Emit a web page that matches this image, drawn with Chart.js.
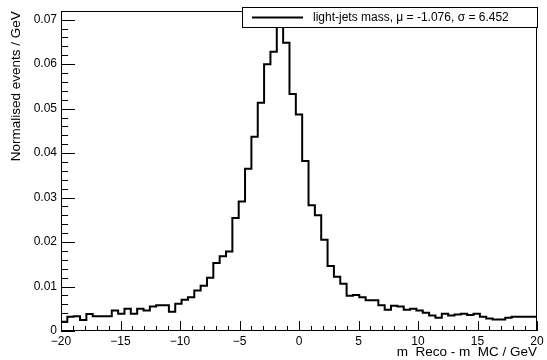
<!DOCTYPE html>
<html>
<head>
<meta charset="utf-8">
<script src="https://cdn.jsdelivr.net/npm/chart.js@4.4.1/dist/chart.umd.min.js"></script>
<style>
  html, body { margin: 0; padding: 0; background: #fff; }
  #wrap { width: 547px; height: 360px; }
</style>
</head>
<body>
<div id="wrap"><canvas id="histo" width="547" height="360"></canvas></div>
<script>
// histogram binning: 75 equal bins from -20 to 20 GeV
const xMin = -20;
const xMax = 20;
const nBins = 75;

// normalised bin contents
const lightJetsMass = [
  0.0039, 0.0021, 0.0032, 0.0033, 0.0025, 0.0038, 0.0033, 0.0033, 0.0033, 0.0046,
  0.0039, 0.0050, 0.0039, 0.0050, 0.0046, 0.0055, 0.0058, 0.0058, 0.0043, 0.0061,
  0.0070, 0.0076, 0.0091, 0.0102, 0.0120, 0.0153, 0.0168, 0.0179, 0.0254, 0.0291,
  0.0365, 0.0437, 0.0513, 0.0600, 0.0628, 0.0700, 0.0648, 0.0533, 0.0487, 0.0382,
  0.0283, 0.0260, 0.0205, 0.0146, 0.0122, 0.0106, 0.0079, 0.0081, 0.0076, 0.0069,
  0.0069, 0.0058, 0.0048, 0.0057, 0.0055, 0.0048, 0.0050, 0.0046, 0.0041, 0.0035,
  0.0030, 0.0039, 0.0035, 0.0037, 0.0039, 0.0036, 0.0039, 0.0032, 0.0028, 0.0026,
  0.0026, 0.0030, 0.0032, 0.0032, 0.0032
];

const yMax = 0.0719;
const xTickStep = 5;
const yTickStep = 0.01;
const legendText = 'light-jets mass, \u03bc = -1.076, \u03c3 = 6.452';
const xTitle = 'm  Reco - m  MC / GeV';
const yTitle = 'Normalised events / GeV';

const binWidth = (xMax - xMin) / nBins;

// outline points (ROOT style: drop to zero at both ends)
const points = [{ x: xMin, y: 0 }];
lightJetsMass.forEach((v, i) => points.push({ x: xMin + i * binWidth, y: v }));
points.push({ x: xMax, y: lightJetsMass[lightJetsMass.length - 1] });
points.push({ x: xMax, y: 0 });

const FONT = "'Liberation Sans', Arial, Helvetica, sans-serif";

// frame, inward ticks and the legend box
const rootStyle = {
  id: 'rootStyle',
  afterDatasetsDraw(chart) {
    const { ctx, chartArea: a, scales: { x, y } } = chart;
    ctx.save();
    ctx.strokeStyle = '#000';
    ctx.lineWidth = 1;
    ctx.strokeRect(Math.round(a.left) + 0.5, Math.round(a.top) + 0.5,
      Math.round(a.right - a.left) - 1, Math.round(a.bottom - a.top) - 1);

    ctx.beginPath();
    for (let v = xMin; v <= xMax + 1e-9; v += 1) {
      const px = Math.round(x.getPixelForValue(v)) + 0.5;
      const len = (Math.abs(v % xTickStep) < 1e-9) ? 10 : 5;
      ctx.moveTo(px, a.bottom);
      ctx.lineTo(px, a.bottom - len);
    }
    for (let k = 0; k * 0.002 <= yMax + 1e-9; k++) {
      const py = Math.round(y.getPixelForValue(k * 0.002)) + 0.5;
      const len = (k % 5 === 0) ? 14 : 7;
      ctx.moveTo(a.left, py);
      ctx.lineTo(a.left + len, py);
    }
    ctx.stroke();

    // legend
    const lx = 242, ly = 7, lw = 296, lh = 21;
    ctx.fillStyle = '#fff';
    ctx.fillRect(lx, ly, lw, lh);
    ctx.strokeRect(lx + 0.5, ly + 0.5, lw - 1, lh - 1);
    ctx.lineWidth = 2;
    ctx.beginPath();
    ctx.moveTo(252, ly + 10.5);
    ctx.lineTo(303, ly + 10.5);
    ctx.stroke();
    ctx.fillStyle = '#000';
    ctx.font = '12px ' + FONT;
    ctx.textBaseline = 'middle';
    ctx.fillText(legendText, 313, ly + 11);
    ctx.restore();
  }
};

new Chart(document.getElementById('histo').getContext('2d'), {
  type: 'line',
  data: {
    datasets: [{
      label: 'light-jets mass',
      data: points,
      stepped: 'after',
      borderColor: '#000',
      borderWidth: 2,
      pointRadius: 0,
      fill: false
    }]
  },
  options: {
    responsive: false,
    animation: false,
    devicePixelRatio: 1,
    layout: { padding: { top: 7, right: 10, left: 0, bottom: 0 } },
    plugins: { legend: { display: false }, tooltip: { enabled: false } },
    scales: {
      x: {
        type: 'linear',
        min: xMin,
        max: xMax,
        grid: { display: false, drawTicks: false },
        border: { display: false },
        afterFit: s => { s.height = 29; },
        ticks: {
          stepSize: xTickStep,
          autoSkip: false,
          maxRotation: 0,
          padding: 3,
          color: '#000',
          font: { family: FONT, size: 12 },
          callback: v => String(v).replace('-', '\u2212')
        },
        title: {
          display: true,
          text: xTitle,
          align: 'end',
          color: '#000',
          font: { family: FONT, size: 13.5 },
          padding: { top: 0, bottom: 0 }
        }
      },
      y: {
        type: 'linear',
        min: 0,
        max: yMax,
        grid: { display: false, drawTicks: false },
        border: { display: false },
        afterFit: s => { s.width = 61; },
        ticks: {
          stepSize: yTickStep,
          includeBounds: false,
          padding: 4,
          color: '#000',
          font: { family: FONT, size: 12 },
          callback: v => (Math.abs(v) < 1e-9 ? '0' : v.toFixed(2))
        },
        title: {
          display: true,
          text: yTitle,
          align: 'end',
          color: '#000',
          font: { family: FONT, size: 13.5 },
          padding: { top: 8, bottom: 0 }
        }
      }
    }
  },
  plugins: [rootStyle]
});
</script>
</body>
</html>
